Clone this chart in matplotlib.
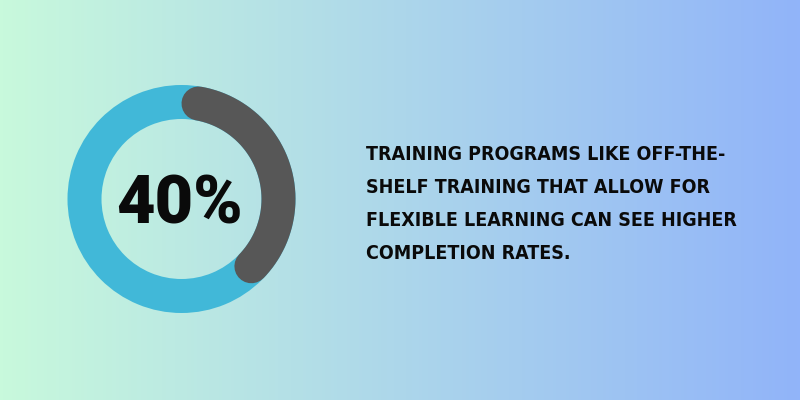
#!/usr/bin/env python3
"""
Donut stat card: 40% completion rate
"""

import numpy as np
import matplotlib
matplotlib.use("Agg")
import matplotlib.pyplot as plt
from matplotlib.colors import LinearSegmentedColormap
from matplotlib.patches import Wedge

# data
percent = 40
stat_label = "40%"
caption_lines = [
    "TRAINING PROGRAMS LIKE OFF-THE-",
    "SHELF TRAINING THAT ALLOW FOR",
    "FLEXIBLE LEARNING CAN SEE HIGHER",
    "COMPLETION RATES.",
]

RING_COLOR = "#41b8d8"
ARC_COLOR = "#575757"
BG_LEFT = "#c8f9dc"
BG_RIGHT = "#91b4f9"


def main():
    fig = plt.figure(figsize=(8, 4), dpi=100)
    ax = fig.add_axes([0, 0, 1, 1])
    ax.set_xlim(0, 800)
    ax.set_ylim(400, 0)
    ax.axis("off")

    # horizontal gradient background
    cmap = LinearSegmentedColormap.from_list("bg", [BG_LEFT, BG_RIGHT])
    grad = np.linspace(0, 1, 256).reshape(1, -1)
    ax.imshow(grad, cmap=cmap, extent=[0, 800, 400, 0], aspect="auto", zorder=0)

    cx, cy, r = 181.5, 199, 97
    width = 34
    lw = width * 72 / 100  # px -> pt

    # full blue ring
    ax.add_patch(Wedge((cx, cy), r + width / 2, 0, 360, width=width,
                       facecolor=RING_COLOR, edgecolor="none", zorder=2))

    # grey arc for the percent, clockwise from the top with round caps
    cap = np.arcsin((width / 2) / r)
    t = np.linspace(cap, 2 * np.pi * percent / 100 - cap, 200)
    ax.plot(cx + r * np.sin(t), cy - r * np.cos(t), color=ARC_COLOR,
            linewidth=lw, solid_capstyle="round", zorder=3)

    ax.text(179, 205, stat_label, ha="center", va="center", fontsize=48,
            fontweight="black", family=["Roboto", "DejaVu Sans"],
            color="#0a0a0a", zorder=4)

    for i, line in enumerate(caption_lines):
        ax.text(366, 160 + i * 33, line, ha="left", va="baseline",
                fontsize=14, fontweight="bold", fontstretch="condensed",
                family="DejaVu Sans", color="#0a0a0a", zorder=4)

    fig.savefig("out.png", dpi=100)


if __name__ == "__main__":
    main()
